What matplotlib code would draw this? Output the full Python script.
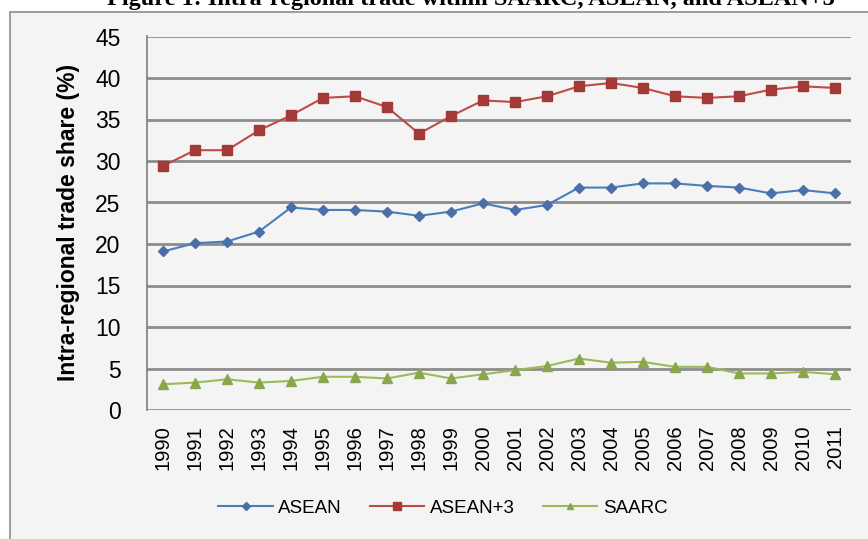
import matplotlib
matplotlib.use("Agg")
import matplotlib.pyplot as plt
from matplotlib.patches import Rectangle

years = [str(y) for y in range(1990, 2012)]
asean = [19.1, 20.1, 20.3, 21.5, 24.4, 24.1, 24.1, 23.9, 23.4, 23.9, 24.9,
         24.1, 24.7, 26.8, 26.8, 27.3, 27.3, 27.0, 26.8, 26.1, 26.5, 26.1]
asean3 = [29.4, 31.3, 31.3, 33.7, 35.5, 37.6, 37.8, 36.5, 33.3, 35.4, 37.3,
          37.1, 37.8, 39.0, 39.4, 38.8, 37.8, 37.6, 37.8, 38.6, 39.0, 38.8]
saarc = [3.1, 3.3, 3.7, 3.3, 3.5, 4.0, 4.0, 3.8, 4.5, 3.8, 4.3,
         4.8, 5.3, 6.2, 5.7, 5.8, 5.2, 5.2, 4.4, 4.4, 4.6, 4.3]
series_names = ["ASEAN", "ASEAN+3", "SAARC"]
yticks = [0, 5, 10, 15, 20, 25, 30, 35, 40, 45]

W, H = 868, 539
fig = plt.figure(figsize=(W / 100, H / 100), dpi=100)
fig.patch.set_facecolor("white")

# chart area box
fig.patches.append(Rectangle((10 / W, -0.01), 1.0, 1 - 12 / H + 0.01,
                             transform=fig.transFigure, facecolor="#f4f4f4",
                             edgecolor="#8c8c8c", linewidth=1.2, zorder=-10))

# title, partly cut off at top as in the reference
fig.text(107 / W, 1 - 0 / H, "Figure 1: Intra-regional trade within SAARC, ASEAN, and ASEAN+3",
         ha="left", va="center", fontsize=17.5, fontweight="bold",
         family="Liberation Serif", color="black")

ax = fig.add_axes([147 / W, 1 - 410 / H, (851 - 147) / W, (410 - 36.5) / H])
ax.set_facecolor("#f4f4f4")
x = list(range(len(years)))

ax.plot(x, asean, color="#4a7ebb", marker="D", markersize=5,
        markerfacecolor="#4a6fa8", markeredgecolor="#4a6fa8", linewidth=1.5,
        label=series_names[0], zorder=3)
ax.plot(x, asean3, color="#be4b48", marker="s", markersize=7.5,
        markerfacecolor="#a33a37", markeredgecolor="#a33a37", linewidth=1.5,
        label=series_names[1], zorder=3)
ax.plot(x, saarc, color="#9bbb59", marker="^", markersize=6.5,
        markerfacecolor="#8aa64d", markeredgecolor="#8aa64d", linewidth=1.5,
        label=series_names[2], zorder=3)

ax.set_ylim(0, 45)
ax.set_xlim(-0.5, len(years) - 0.5)
ax.set_yticks(yticks)
ax.set_yticklabels([str(t) for t in yticks], fontsize=16.5, family="Liberation Sans")
ax.set_xticks(x)
ax.set_xticklabels(years, rotation=90, fontsize=14.5, family="Liberation Sans")
ax.tick_params(axis="y", length=0, pad=19)
ax.tick_params(axis="x", length=0, pad=11)
ax.yaxis.grid(True, color="#8c8c8c", linewidth=2)
ax.set_axisbelow(True)
for s in ["top", "right", "bottom"]:
    ax.spines[s].set_visible(False)
ax.spines["left"].set_color("#7f7f7f")
ax.spines["left"].set_linewidth(1.2)

ax.set_ylabel("Intra-regional trade share (%)", fontsize=16.5, fontweight="bold",
              family="Liberation Sans")
ax.yaxis.set_label_coords((80 - 147) / 704, 0.503)

leg = fig.legend(loc="center", bbox_to_anchor=(443 / W, 1 - 508 / H), ncol=3,
                 frameon=False, handlelength=2.9, handletextpad=0.3,
                 columnspacing=1.5, markerscale=0.75,
                 prop={"family": "Liberation Sans", "size": 13.5})

fig.savefig("out.png", dpi=100)
